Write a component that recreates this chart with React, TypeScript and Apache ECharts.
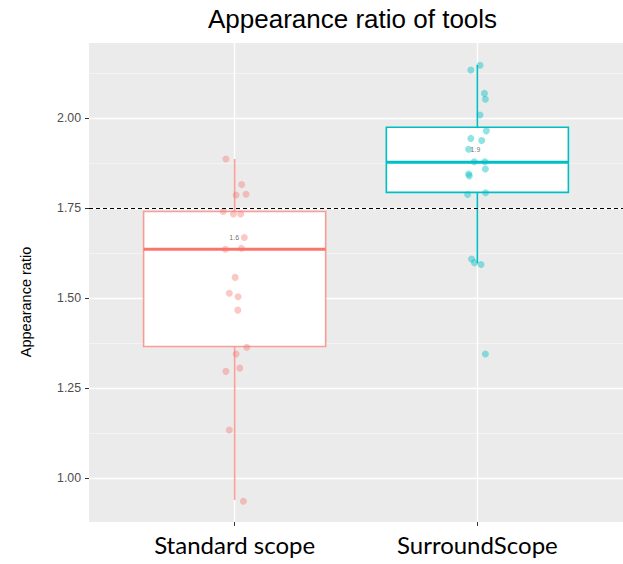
import React, { useEffect, useRef } from 'react';
import * as echarts from 'echarts';

const categories = ['Standard scope', 'SurroundScope'];
const categoryPositions = [1, 2];
const groupColors = ['#F8766D', '#00BFC4'];

// box statistics
const whiskerLow = [0.94, 1.597];
const q1 = [1.366, 1.794];
const median = [1.636, 1.878];
const q3 = [1.741, 1.975];
const whiskerHigh = [1.887, 2.148];

const medianLabels = ['1.6', '1.9'];
const medianLabelPos = [
  [0.998, 1.668],
  [1.992, 1.912],
];
const referenceLine = 1.75;
const yTicks = [1.0, 1.25, 1.5, 1.75, 2.0];

// jittered points [x, value]
const standardPoints = [
  [0.964, 1.887], [1.029, 1.816], [1.006, 1.787], [1.047, 1.789], [0.953, 1.741],
  [0.995, 1.734], [1.025, 1.734], [1.04, 1.669], [0.962, 1.636], [1.028, 1.639],
  [1.002, 1.558], [0.978, 1.514], [1.014, 1.504], [1.013, 1.467], [1.05, 1.364],
  [1.006, 1.345], [0.964, 1.297], [1.021, 1.306], [0.978, 1.134], [1.036, 0.936],
];
const surroundPoints = [
  [1.973, 2.134], [2.011, 2.147], [2.029, 2.069], [2.033, 2.053], [2.011, 2.009],
  [2.037, 1.965], [1.973, 1.944], [2.018, 1.938], [1.964, 1.914], [1.987, 1.879],
  [2.031, 1.879], [2.033, 1.859], [1.964, 1.845], [1.967, 1.84], [1.96, 1.788],
  [2.034, 1.793], [1.976, 1.609], [1.988, 1.599], [2.015, 1.594], [2.033, 1.345],
];

const boxStroke = ['rgba(248,118,109,0.7)', '#00BFC4'];
const medianStroke = ['#F8766D', '#00BFC4'];

export default function App() {
  const ref = useRef<HTMLDivElement>(null);
  useEffect(() => {
    if (!ref.current) return;
    const chart = echarts.init(ref.current, undefined, { renderer: 'svg' });
    const boxData = categoryPositions.map((c, i) => [
      c, whiskerLow[i], q1[i], median[i], q3[i], whiskerHigh[i],
    ]);
    const option: any = {
      animation: false,
      backgroundColor: '#ffffff',
      title: {
        text: 'Appearance ratio of tools',
        left: 208,
        top: 6,
        padding: 0,
        textStyle: {
          fontFamily: 'Liberation Sans',
          fontSize: 26,
          fontWeight: 'normal',
          color: '#000',
        },
      },
      grid: {
        left: 89,
        top: 43,
        width: 534,
        height: 479,
        show: true,
        backgroundColor: '#EBEBEB',
        borderWidth: 0,
      },
      xAxis: {
        type: 'value',
        min: 0.4,
        max: 2.6,
        minInterval: 1,
        maxInterval: 1,
        axisLine: { show: false },
        axisTick: {
          show: true,
          length: 4,
          customValues: categoryPositions,
          lineStyle: { color: '#333', width: 1 },
        },
        axisLabel: {
          customValues: categoryPositions,
          formatter: (v: number) => categories[Math.round(v) - 1] ?? '',
          fontFamily: 'Lato',
          fontSize: 24,
          color: '#000',
          margin: 10,
        },
        splitLine: { show: true, lineStyle: { color: '#ffffff', width: 1.4 } },
      },
      yAxis: {
        type: 'value',
        min: 0.8786,
        max: 2.209,
        minInterval: 0.25,
        maxInterval: 0.25,
        axisLine: { show: false },
        axisTick: {
          show: true,
          length: 4,
          customValues: yTicks,
          lineStyle: { color: '#333', width: 1 },
        },
        axisLabel: {
          customValues: yTicks,
          formatter: (v: number) => v.toFixed(2),
          fontFamily: 'Liberation Sans',
          fontSize: 12.3,
          color: '#4D4D4D',
          margin: 8,
        },
        splitLine: { show: true, lineStyle: { color: '#ffffff', width: 1.4 } },
        minorTick: { show: false, splitNumber: 2 },
        minorSplitLine: { show: true, lineStyle: { color: '#F8F8F8', width: 0.7 } },
      },
      graphic: [
        {
          type: 'text',
          x: 26,
          y: 302,
          rotation: Math.PI / 2,
          style: {
            text: 'Appearance ratio',
            fontFamily: 'Liberation Sans',
            fontSize: 14.5,
            fill: '#000',
            align: 'center',
            verticalAlign: 'middle',
          },
        },
      ],
      series: [
        {
          type: 'custom',
          name: 'box',
          z: 2,
          data: boxData,
          encode: { x: 0, y: [1, 2, 3, 4, 5] },
          renderItem: (params: any, api: any) => {
            const i = params.dataIndex;
            const x = api.value(0);
            const pLo = api.coord([x, api.value(1)]);
            const pQ1 = api.coord([x, api.value(2)]);
            const pMed = api.coord([x, api.value(3)]);
            const pQ3 = api.coord([x, api.value(4)]);
            const pHi = api.coord([x, api.value(5)]);
            const halfW = api.size([0.75, 0])[0] / 2;
            const cx = pMed[0];
            const stroke = boxStroke[i];
            return {
              type: 'group',
              children: [
                {
                  type: 'line',
                  shape: { x1: cx, y1: pHi[1], x2: cx, y2: pQ3[1] },
                  style: { stroke, lineWidth: 1.6 },
                },
                {
                  type: 'line',
                  shape: { x1: cx, y1: pQ1[1], x2: cx, y2: pLo[1] },
                  style: { stroke, lineWidth: 1.6 },
                },
                {
                  type: 'rect',
                  shape: { x: cx - halfW, y: pQ3[1], width: halfW * 2, height: pQ1[1] - pQ3[1] },
                  style: { fill: '#ffffff', stroke, lineWidth: 1.6 },
                },
                {
                  type: 'line',
                  shape: { x1: cx - halfW, y1: pMed[1], x2: cx + halfW, y2: pMed[1] },
                  style: { stroke: medianStroke[i], lineWidth: 3 },
                },
              ],
            };
          },
        },
        {
          type: 'scatter',
          name: categories[0],
          z: 3,
          data: standardPoints,
          symbol: 'circle',
          symbolSize: 7,
          itemStyle: { color: 'rgba(248,118,109,0.5)' },
          markLine: {
            silent: true,
            symbol: 'none',
            label: { show: false },
            lineStyle: { color: '#000', type: [4, 3], width: 1.2 },
            data: [{ yAxis: referenceLine }],
          },
        },
        {
          type: 'scatter',
          name: categories[1],
          z: 3,
          data: surroundPoints,
          symbol: 'circle',
          symbolSize: 7,
          itemStyle: { color: 'rgba(0,191,196,0.55)' },
        },
        {
          type: 'scatter',
          name: 'labels',
          z: 4,
          silent: true,
          symbolSize: 0,
          data: medianLabelPos,
          label: {
            show: true,
            position: 'inside',
            formatter: (p: any) => medianLabels[p.dataIndex],
            fontFamily: 'Liberation Sans',
            fontSize: 7,
            color: (p: any) => groupColors[p.dataIndex],
            opacity: 0.6,
          },
        },
      ],
    };
    chart.setOption(option);
    return () => chart.dispose();
  }, []);
  return (
    <div
      ref={ref}
      style={{ position: 'fixed', left: 0, top: 0, width: 623, height: 564 }}
    />
  );
}
